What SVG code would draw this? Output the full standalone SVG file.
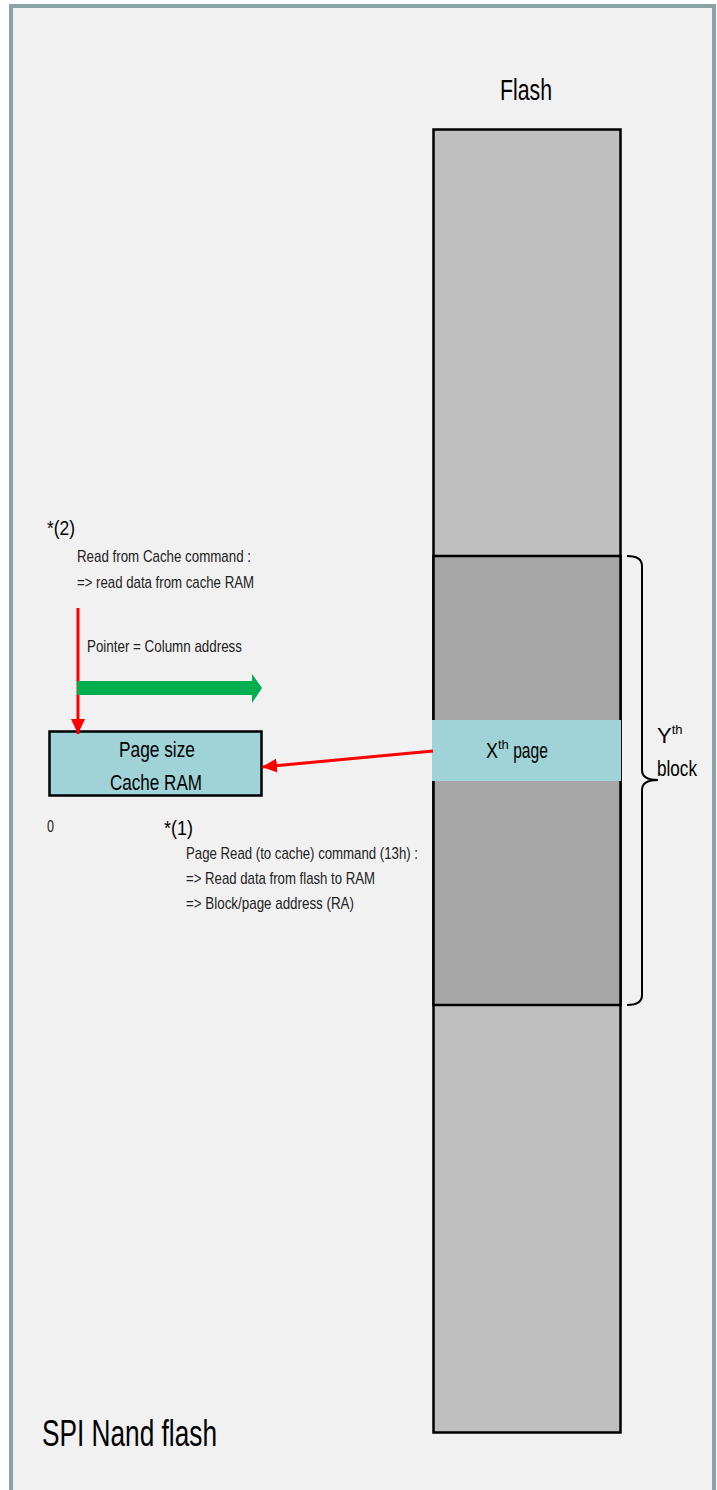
<svg xmlns="http://www.w3.org/2000/svg" width="717" height="1490" viewBox="0 0 717 1490">
<defs>
<style>
.t{font-family:"Liberation Sans Narrow","Liberation Sans",Arial,sans-serif;fill:#000}
.s{font-size:17px;fill:#222}
.m{font-size:21px}
.red{stroke:#ff0000;stroke-width:3;fill:none}
</style>
<marker id="rh" markerUnits="userSpaceOnUse" markerWidth="16" markerHeight="14" refX="15" refY="7" orient="auto">
<path d="M0,0 L15,7 L0,14 Z" fill="#ff0000"/>
</marker>
</defs>
<rect x="0" y="0" width="717" height="1490" fill="#ffffff"/>
<rect id="frame" x="11" y="6" width="703" height="1500" fill="#f1f1f1" stroke="#88a4a4" stroke-width="4"/>
<g id="flash">
<rect x="433.5" y="129.5" width="187" height="1303" fill="#bfbfbf" stroke="#000" stroke-width="2.5"/>
<rect x="433.5" y="556" width="187" height="449" fill="#a6a6a6" stroke="#000" stroke-width="2.5"/>
<text class="t" x="500" y="100" font-size="29" textLength="52" lengthAdjust="spacingAndGlyphs">Flash</text>
</g>
<g id="xpage">
<rect x="432" y="720" width="189" height="61" fill="#9fd3d7"/>
<text class="t" x="486" y="758" font-size="22" fill="#222"><tspan textLength="12" lengthAdjust="spacingAndGlyphs">X</tspan><tspan font-size="13" dy="-9">th</tspan><tspan dy="9" textLength="39" lengthAdjust="spacingAndGlyphs"> page</tspan></text>
</g>
<g id="brace">
<path d="M627,556 Q642,556 642,566 L642,770 Q642,780 658,780 Q642,780 642,790 L642,995 Q642,1005 627,1005" fill="none" stroke="#000" stroke-width="2"/>
<text class="t" x="657" y="743" font-size="22" fill="#222">Y<tspan font-size="13" dy="-9">th</tspan></text>
<text class="t" x="657" y="776" font-size="22" fill="#222" textLength="40" lengthAdjust="spacingAndGlyphs">block</text>
</g>
<g id="cache">
<rect x="49.5" y="731.5" width="212" height="64" fill="#9fd3d7" stroke="#000" stroke-width="2.5"/>
<text class="t" x="119" y="757" font-size="22" fill="#222" textLength="76" lengthAdjust="spacingAndGlyphs">Page size</text>
<text class="t" x="110" y="790" font-size="22" fill="#222" textLength="92" lengthAdjust="spacingAndGlyphs">Cache RAM</text>
</g>
<g id="labels">
<text class="t m" x="47" y="535" textLength="28" lengthAdjust="spacingAndGlyphs">*(2)</text>
<text class="t s" x="77" y="562" textLength="174" lengthAdjust="spacingAndGlyphs">Read from Cache command :</text>
<text class="t s" x="77" y="588" textLength="177" lengthAdjust="spacingAndGlyphs">=&gt; read data from cache RAM</text>
<text class="t s" x="87" y="652" textLength="155" lengthAdjust="spacingAndGlyphs">Pointer = Column address</text>
<text class="t s" x="47" y="832" textLength="7" lengthAdjust="spacingAndGlyphs">0</text>
<text class="t m" x="164" y="835" textLength="29" lengthAdjust="spacingAndGlyphs">*(1)</text>
<text class="t s" x="186" y="859" textLength="232" lengthAdjust="spacingAndGlyphs">Page Read (to cache) command (13h) :</text>
<text class="t s" x="186" y="884" textLength="189" lengthAdjust="spacingAndGlyphs">=&gt; Read data from flash to RAM</text>
<text class="t s" x="186" y="909" textLength="168" lengthAdjust="spacingAndGlyphs">=&gt; Block/page address (RA)</text>
<text class="t" x="42" y="1446" font-size="36" fill="#111" textLength="175" lengthAdjust="spacingAndGlyphs">SPI Nand flash</text>
</g>
<g id="connectors">
<line class="red" x1="433" y1="751" x2="262" y2="767" marker-end="url(#rh)"/>
<line class="red" x1="78" y1="608" x2="78" y2="734" marker-end="url(#rh)"/>
<path d="M77,681 L252,681 L252,674 L262,688 L252,703 L252,695 L77,695 Z" fill="#00b050"/>
</g>
</svg>
